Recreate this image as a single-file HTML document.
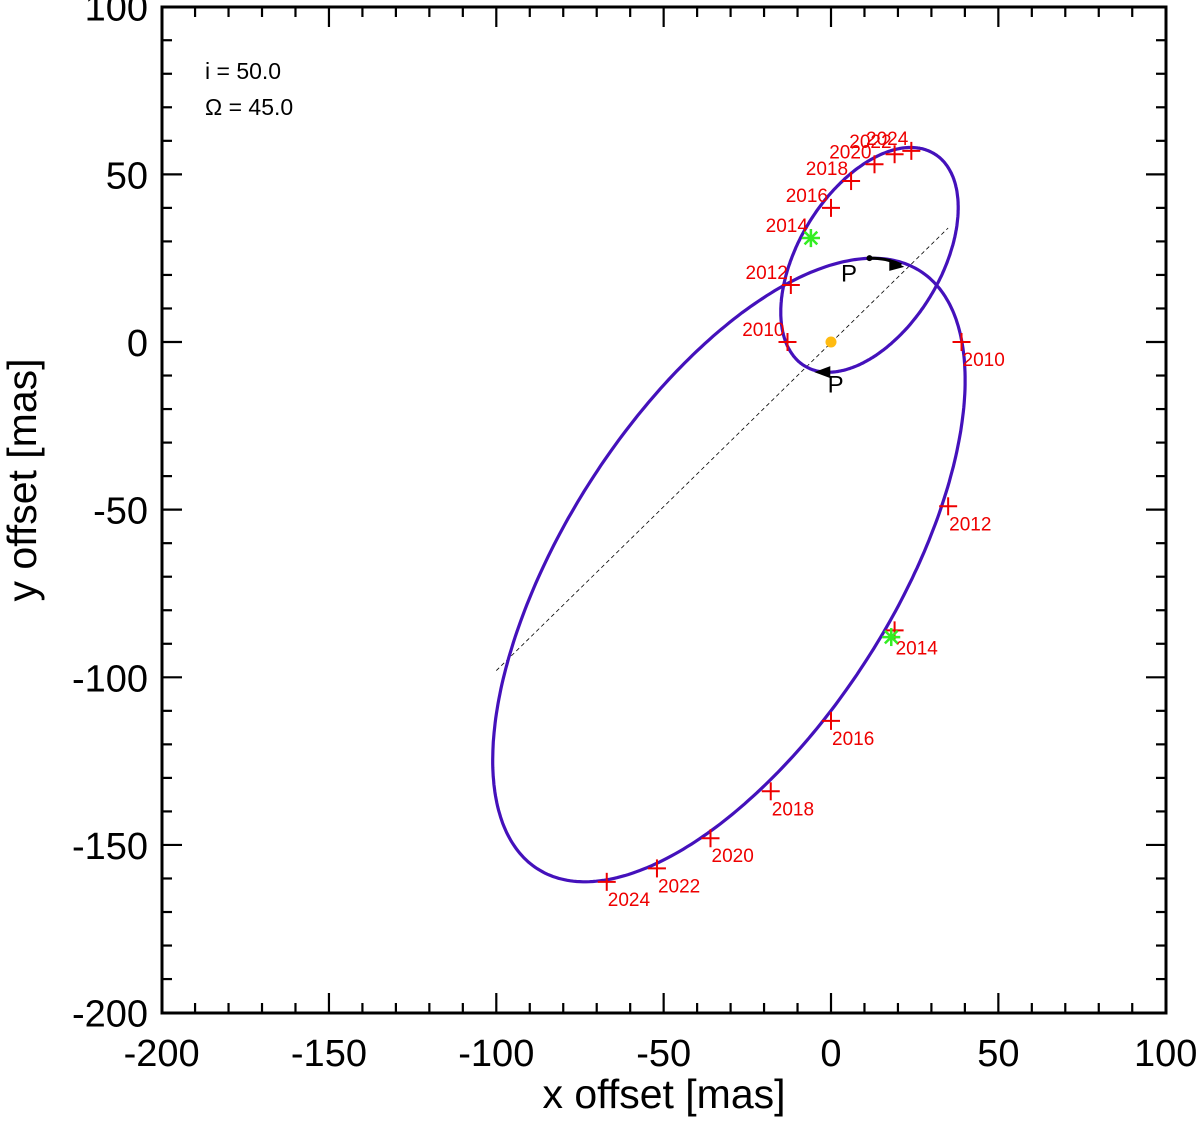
<!DOCTYPE html>
<html><head><meta charset="utf-8"><style>
body{margin:0;background:#fff}
svg text{font-family:"Liberation Sans",sans-serif}
</style></head><body>
<svg id="c" width="1200" height="1121" xmlns="http://www.w3.org/2000/svg"></svg>
<script>
const xTicks=[-200,-150,-100,-50,0,50,100];
const yTicks=[-200,-150,-100,-50,0,50,100];
// ellipse params: [cx, cy, a, b, thetaDeg]
const orbitOuter=[-30.5,-68,105.9,49.1,57.3];
const orbitInner=[11.5,24.5,37.1,21.2,58.5];
const outerYears=["2010","2012","2014","2016","2018","2020","2022","2024"];
const outerX=[39,35,19,0,-18,-36,-52,-67];
const outerY=[0,-49,-86,-113,-134,-148,-157,-161];
const innerYears=["2010","2012","2014","2016","2018","2020","2022","2024"];
const innerX=[-13,-12,-6,0,6,13,19,24];
const innerY=[0,17,31,40,48,53,56,57];
const starX=[18,-6];
const starY=[-88,31];
const nodeLine=[[-100,-98],[35,34]];

const X=v=>831+v*3.347, Y=v=>342-v*3.353;
const svg=document.getElementById('c');
const NS='http://www.w3.org/2000/svg';
function mk(t,a,p){const e=document.createElementNS(NS,t);for(const k in a)e.setAttribute(k,a[k]);(p||svg).appendChild(e);return e;}

let e=mk('rect',{x:162,y:7,width:1004,height:1006,fill:'none',stroke:'#000','stroke-width':3});



for(let v=-200;v<=100;v+=10){
 const major=v%50===0, L=major?20:10;
 const px=X(v), py=Y(v);
 mk('line',{x1:px,y1:1013,x2:px,y2:1013-L,stroke:'#000','stroke-width':2.2});
 mk('line',{x1:px,y1:7,x2:px,y2:7+L,stroke:'#000','stroke-width':2.2});
 mk('line',{x1:162,y1:py,x2:162+L,y2:py,stroke:'#000','stroke-width':2.2});
 mk('line',{x1:1166,y1:py,x2:1166-L,y2:py,stroke:'#000','stroke-width':2.2});
}
xTicks.forEach(v=>{e=mk('text',{x:X(v),y:1066,'font-size':38,'text-anchor':'middle'});e.textContent=v;

});
yTicks.forEach(v=>{e=mk('text',{x:148,y:Y(v)+14,'font-size':38,'text-anchor':'end'});e.textContent=v;

});
e=mk('text',{x:664,y:1108,'font-size':41,'text-anchor':'middle'});e.textContent='x offset [mas]';


e=mk('text',{x:0,y:0,'font-size':41,'text-anchor':'middle',transform:'translate(36,480) rotate(-90)'});e.textContent='y offset [mas]';


e=mk('text',{x:205,y:79,'font-size':23});e.textContent='i = 50.0';


e=mk('text',{x:205,y:115,'font-size':23});e.textContent='Ω = 45.0';



e=mk('line',{x1:X(nodeLine[0][0]),y1:Y(nodeLine[0][1]),x2:X(nodeLine[1][0]),y2:Y(nodeLine[1][1]),stroke:'#000','stroke-width':0.8,'stroke-dasharray':'4,3'});



function ellipse(p,name){const[cx,cy,a,b,th]=p;const t=th*Math.PI/180;let d='';
 for(let i=0;i<=360;i++){const u=i*Math.PI/180;const x=cx+a*Math.cos(u)*Math.cos(t)-b*Math.sin(u)*Math.sin(t);const y=cy+a*Math.cos(u)*Math.sin(t)+b*Math.sin(u)*Math.cos(t);d+=(i?'L':'M')+X(x).toFixed(1)+' '+Y(y).toFixed(1);}
 const el=mk('path',{d:d+'Z',fill:'none',stroke:'#4411bb','stroke-width':3.2});
 
 }
ellipse(orbitOuter,'outer-orbit');
ellipse(orbitInner,'inner-orbit');

function plus(x,y){const px=X(x),py=Y(y);
 const g=mk('g',{stroke:'#ee0000','stroke-width':2});
 
 
 mk('line',{x1:px-9,y1:py,x2:px+9,y2:py},g);mk('line',{x1:px,y1:py-9,x2:px,y2:py+9},g);}
outerYears.forEach((yr,i)=>{plus(outerX[i],outerY[i]);
 const t=mk('text',{x:X(outerX[i])+1,y:Y(outerY[i])+24,'font-size':19,fill:'#ee0000'});t.textContent=yr;
 
 });
innerYears.forEach((yr,i)=>{plus(innerX[i],innerY[i]);
 const t=mk('text',{x:X(innerX[i])-3,y:Y(innerY[i])-6,'font-size':19,fill:'#ee0000','text-anchor':'end'});t.textContent=yr;
 
 });
starX.forEach((sx,i)=>{const px=X(sx),py=Y(starY[i]);
 const g=mk('g',{stroke:'#33ee22','stroke-width':2.5});
 
 
 for(let k=0;k<4;k++){const a=k*Math.PI/4;mk('line',{x1:px-9*Math.cos(a),y1:py-9*Math.sin(a),x2:px+9*Math.cos(a),y2:py+9*Math.sin(a)},g);}});

e=mk('circle',{cx:X(11.5),cy:Y(25),r:3,fill:'#000'});


e=mk('path',{d:`M${X(11.5)} ${Y(25)} Q${X(17)} ${Y(25)} ${X(21)} ${Y(23)}`,fill:'none',stroke:'#000','stroke-width':3});


e=mk('path',{d:`M${X(21)-12} ${Y(23)-6} L${X(21)+3} ${Y(23)+2} L${X(21)-12} ${Y(23)+6}Z`,fill:'#000'});


e=mk('path',{d:`M${X(-2)+6} ${Y(-9)-6} L${X(-5)} ${Y(-9)} L${X(-2)+6} ${Y(-9)+6}Z`,fill:'#000'});


e=mk('text',{x:X(3),y:Y(18),'font-size':24});e.textContent='P';


e=mk('text',{x:X(-1),y:Y(-15),'font-size':24});e.textContent='P';


e=mk('circle',{cx:X(0),cy:Y(0),r:5.5,fill:'#ffbb11'});


</script>
</body></html>
